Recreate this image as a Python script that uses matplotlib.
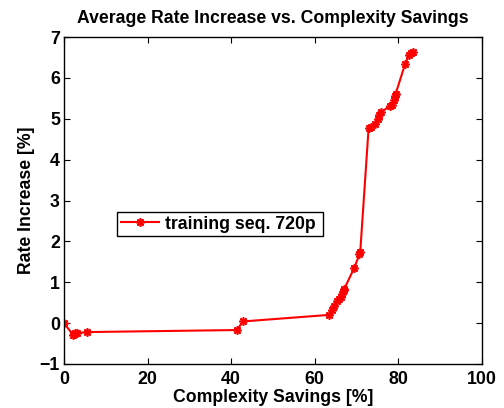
import matplotlib
matplotlib.use("Agg")
import matplotlib.pyplot as plt

# complexity savings [%] and average rate increase [%]
savings = [0.0, 2.1, 2.4, 2.7, 3.0, 5.5, 41.4, 42.8, 63.4, 64.2, 64.6,
           65.4, 65.9, 66.3, 66.6, 66.9, 67.1, 69.5, 70.7, 70.9, 72.9,
           73.4, 74.5, 75.2, 75.5, 75.8, 78.1, 78.6, 79.0, 79.2, 79.4,
           81.6, 82.6, 83.1, 83.5]
rate_inc = [0.0, -0.28, -0.26, -0.24, -0.25, -0.22, -0.17, 0.04, 0.2, 0.33, 0.42,
            0.55, 0.6, 0.65, 0.72, 0.8, 0.84, 1.36, 1.68, 1.74, 4.77,
            4.8, 4.87, 5.0, 5.1, 5.16, 5.32, 5.35, 5.45, 5.55, 5.62,
            6.33, 6.57, 6.6, 6.63]

plt.rcParams["font.family"] = ["Liberation Sans", "DejaVu Sans"]
plt.rcParams["font.weight"] = "bold"

fig = plt.figure(figsize=(5.04, 4.08), dpi=100)
ax = fig.add_axes([0.127, 0.108, 0.829, 0.801])

ax.plot(savings, rate_inc, color="red", linewidth=1.5,
        marker=(8, 2, 0), markersize=6, markeredgewidth=1.2,
        label="training seq. 720p")

ax.set_xlim(0, 100)
ax.set_ylim(-1, 7)
ax.set_xticks([0, 20, 40, 60, 80, 100])
ax.set_yticks(range(-1, 8))
ax.set_yticklabels(["\u22121"] + [str(v) for v in range(0, 8)])
ax.tick_params(direction="in", top=True, right=True, labelsize=12.8,
               length=4, width=0.8)
ax.tick_params(axis="x", pad=5)
ax.tick_params(axis="y", pad=3)
for s in ax.spines.values():
    s.set_linewidth(1.0)

ax.set_xlabel("Complexity Savings [%]", fontsize=12.7, fontweight="bold",
              labelpad=1)
ax.set_ylabel("Rate Increase [%]", fontsize=12.7, fontweight="bold",
              labelpad=3)
ax.set_title("Average Rate Increase vs. Complexity Savings", fontsize=12.7,
             fontweight="bold", pad=10)

leg = ax.legend(loc="lower left", bbox_to_anchor=(0.127, 0.391, 0.493, 0.083),
                mode="expand", fontsize=12.7, fancybox=False, framealpha=1,
                borderpad=0.2, handlelength=2.2, handletextpad=0.3,
                borderaxespad=0)
leg.get_frame().set_edgecolor("black")
leg.get_frame().set_linewidth(1.0)

fig.savefig("out.png", dpi=100)
